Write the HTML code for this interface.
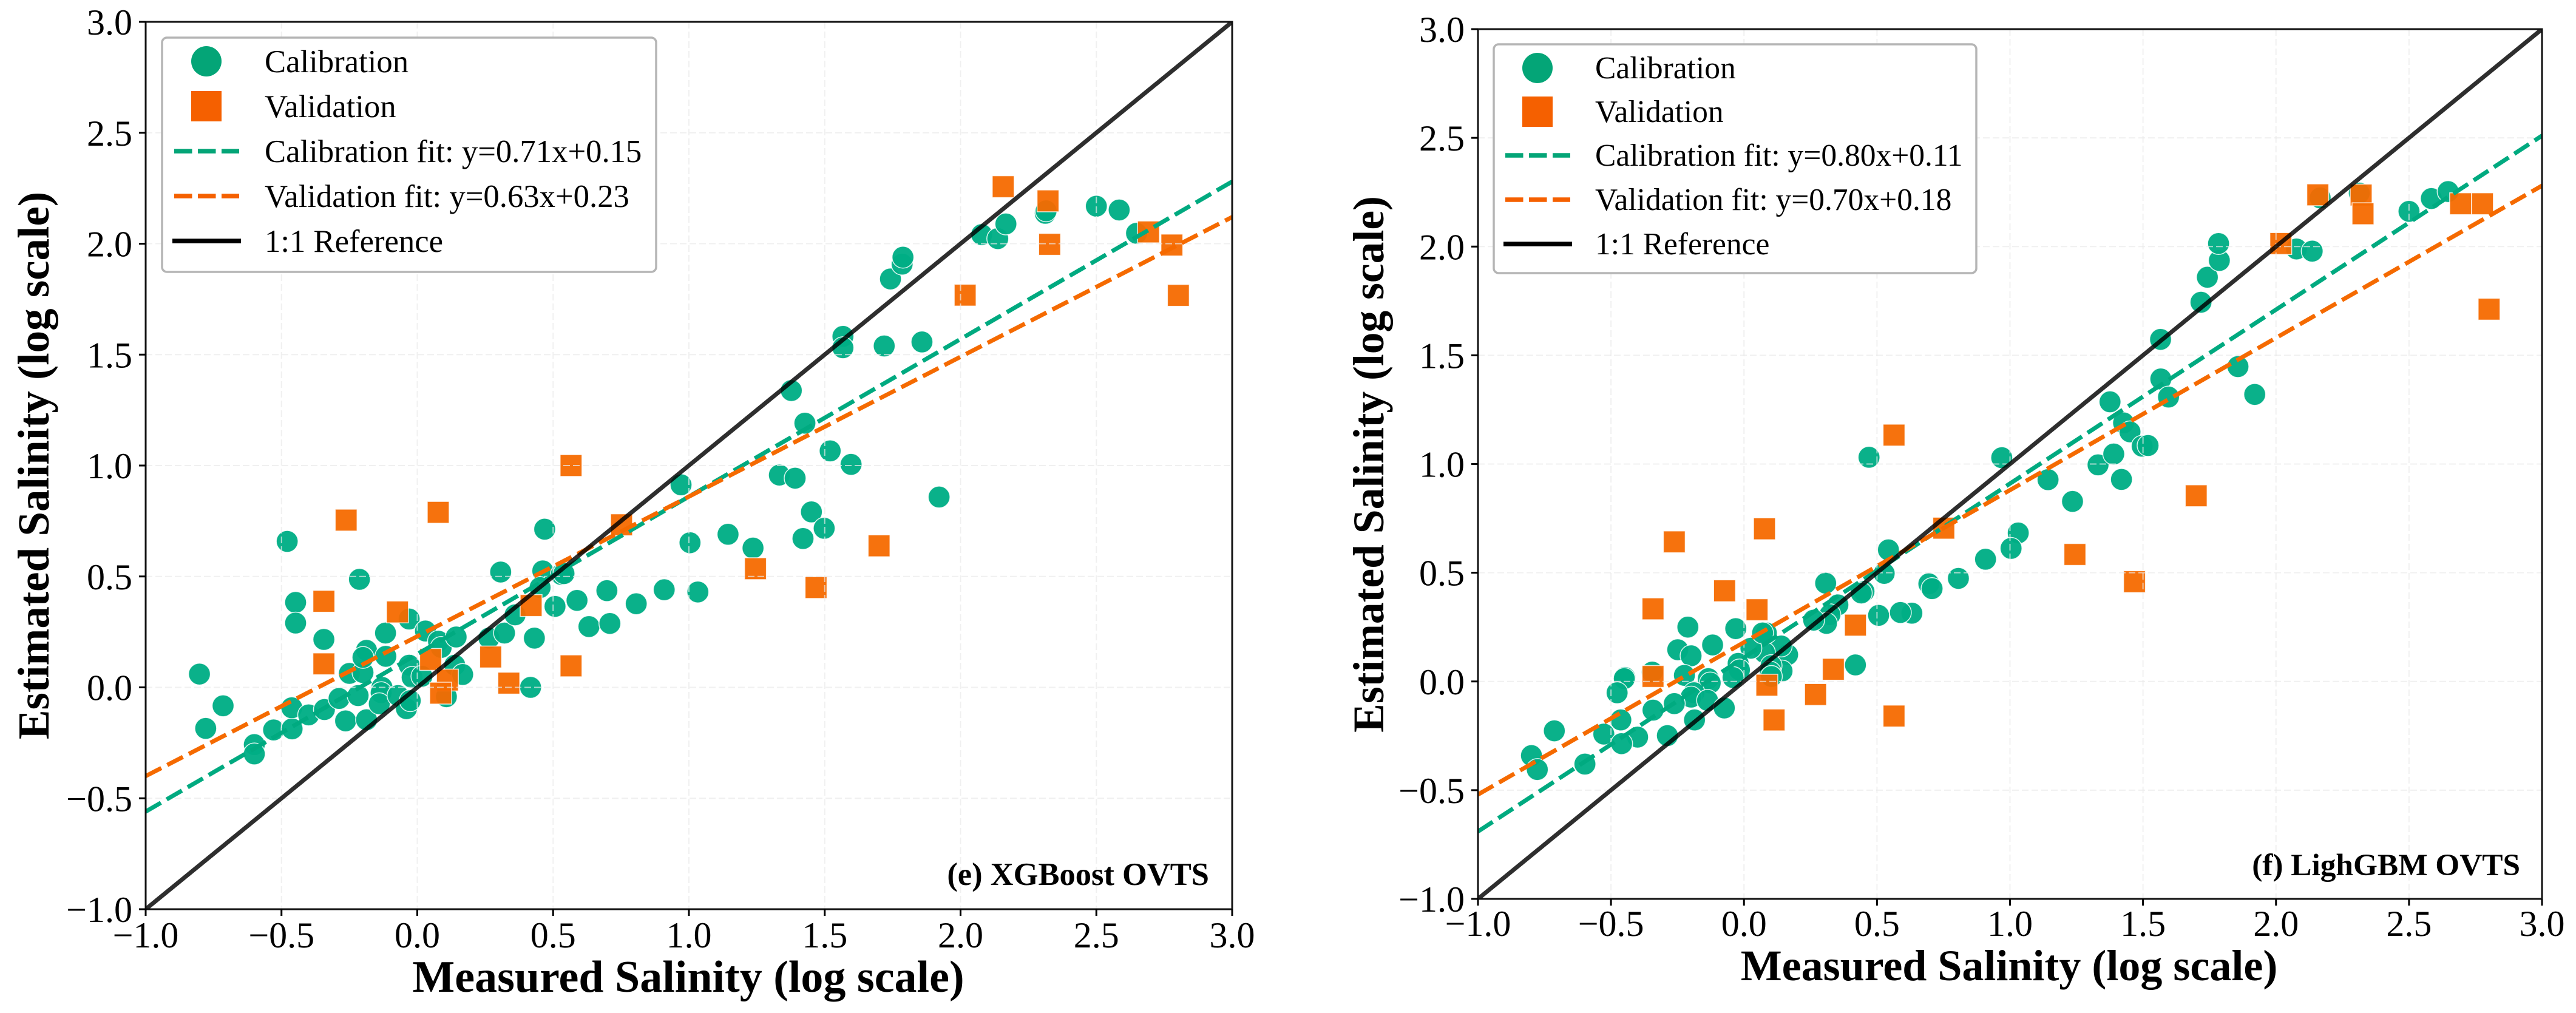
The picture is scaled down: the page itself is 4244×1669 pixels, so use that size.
<!DOCTYPE html>
<html lang="en">
<head>
<meta charset="utf-8">
<title>Measured vs Estimated Salinity</title>
<style>
html,body{margin:0;padding:0;background:#fff;}
svg{display:block;font-family:"Liberation Serif",serif;}
</style>
</head>
<body>
<svg id="figure" xmlns="http://www.w3.org/2000/svg" width="4244" height="1669" viewBox="0 0 4244 1669"></svg>
<script>
const xDomain = [-1, 3];
const yDomain = [-1, 3];
const tickValues = [-1, -0.5, 0, 0.5, 1, 1.5, 2, 2.5, 3];
const tickLabels = ['\u22121.0', '\u22120.5', '0.0', '0.5', '1.0', '1.5', '2.0', '2.5', '3.0'];

const calXE = [-0.802,-0.715,-0.779,-0.6,-0.6,-0.529,-0.461,-0.462,-0.479,-0.448,-0.448,-0.344,-0.4,-0.342,-0.288,-0.264,-0.218,-0.25,-0.2,-0.187,-0.2,-0.187,-0.117,-0.116,-0.213,-0.13,-0.133,-0.14,-0.071,-0.04,-0.026,-0.03,-0.03,-0.019,0.017,0.03,0.078,0.088,0.143,0.138,0.167,0.107,0.264,0.321,0.36,0.431,0.417,0.307,0.462,0.452,0.53,0.54,0.507,0.588,0.632,0.698,0.709,0.469,0.806,0.909,1.033,1.004,0.971,1.333,1.391,1.377,1.427,1.52,1.597,1.567,1.567,1.719,1.858,1.742,1.785,1.788,2.078,2.137,2.167,2.312,2.315,2.5,2.584,2.648,1.144,1.236,1.42,1.451,1.498,1.921];
const calYE = [0.06,-0.083,-0.185,-0.258,-0.3,-0.192,-0.187,-0.092,0.658,0.383,0.29,0.216,-0.124,-0.1,-0.05,-0.151,-0.037,0.063,0.067,0.167,0.135,-0.146,0.245,0.14,0.487,0,-0.024,-0.074,-0.037,-0.096,-0.06,0.308,0.1,0.045,0.05,0.254,0.208,0.18,0.227,0.1,0.058,-0.042,0.222,0.245,0.327,0.222,0,0.52,0.525,0.45,0.509,0.513,0.365,0.392,0.274,0.436,0.288,0.713,0.377,0.44,0.43,0.652,0.913,0.957,0.943,1.338,1.191,1.066,1.005,1.582,1.531,1.539,1.557,1.841,1.908,1.939,2.041,2.023,2.089,2.137,2.148,2.169,2.152,2.047,0.69,0.628,0.671,0.791,0.717,0.858];
const valXE = [0.566,-0.262,0.077,-0.344,-0.073,-0.344,0.049,0.111,0.086,0.27,0.337,0.566,0.419,0.752,1.245,1.468,1.7,2.157,2.322,2.328,2.017,2.692,2.778,2.802];
const valYE = [1,0.754,0.789,0.388,0.34,0.106,0.126,0.033,-0.026,0.137,0.019,0.097,0.369,0.733,0.535,0.45,0.638,2.257,2.193,1.997,1.768,2.053,1.994,1.767];

const calXF = [0.47,0.969,1.143,1.235,1.031,1.004,0.908,0.806,0.695,0.707,0.631,0.588,0.506,0.543,0.527,0.451,0.441,0.353,0.323,0.31,0.262,0.307,0.419,0.164,0.14,0.077,0.026,0.084,0.07,-0.031,-0.118,-0.211,-0.249,-0.199,-0.022,-0.017,-0.041,0.143,0.102,0.099,0.103,-0.224,-0.134,-0.127,-0.345,-0.448,-0.45,-0.477,-0.188,-0.199,-0.137,-0.262,-0.342,-0.074,-0.186,-0.463,-0.4,-0.527,-0.46,-0.288,-0.713,-0.799,-0.598,-0.777,1.331,1.39,1.419,1.376,1.427,1.451,1.497,1.519,1.566,1.567,1.596,1.857,1.92,1.718,1.742,1.787,1.784,2.077,2.136,2.166,2.313,2.5,2.584,2.647];
const calYF = [1.031,1.029,0.928,0.828,0.683,0.612,0.562,0.474,0.449,0.427,0.314,0.317,0.304,0.605,0.497,0.414,0.407,0.352,0.307,0.267,0.282,0.452,0.076,0.123,0.163,0.133,0.153,0.223,0.223,0.243,0.168,0.25,0.146,0.118,0.083,0.053,0.018,0.048,0.073,0.043,0.023,0.028,0.013,-0.007,0.043,0.018,0.013,-0.052,-0.052,-0.072,-0.087,-0.102,-0.132,-0.122,-0.177,-0.177,-0.256,-0.242,-0.286,-0.249,-0.227,-0.341,-0.38,-0.405,0.996,1.046,0.929,1.286,1.189,1.148,1.082,1.085,1.573,1.391,1.308,1.448,1.32,1.744,1.859,1.936,2.014,1.989,1.979,2.224,2.246,2.162,2.221,2.253];
const valXF = [0.564,-0.262,0.077,0.751,-0.073,-0.342,0.049,0.419,-0.342,0.086,0.336,0.269,0.113,0.564,2.157,2.32,2.327,2.018,2.694,2.776,2.801,1.244,1.7,1.468];
const valYF = [1.133,0.642,0.702,0.705,0.417,0.334,0.33,0.259,0.023,-0.017,0.056,-0.06,-0.177,-0.159,2.238,2.237,2.151,2.014,2.197,2.197,1.712,0.584,0.854,0.459];

const fitSlopesE = [0.71, 0.63];
const fitInterceptsE = [0.15, 0.23];
const fitSlopesF = [0.80, 0.70];
const fitInterceptsF = [0.11, 0.18];
const refLine = [-1, 3];

const NS = 'http://www.w3.org/2000/svg';
const CAL = '#00ae85';
const VAL = '#f56a00';
const figure = document.getElementById('figure');

function node(tag, parent) {
  const n = document.createElementNS(NS, tag);
  parent.appendChild(n);
  return n;
}
function props(n, o) {
  for (const k in o) n.setAttribute(k, o[k]);
  return n;
}

function drawPanel(p) {
  const sx = v => p.left + (v - xDomain[0]) / (xDomain[1] - xDomain[0]) * (p.right - p.left);
  const sy = v => p.bottom - (v - yDomain[0]) / (yDomain[1] - yDomain[0]) * (p.bottom - p.top);

  const g = node('g', figure);
  
  

  const clip = node('clipPath', g);
  clip.setAttribute('id', 'clip-' + p.id);
  props(node('rect', clip), {x: p.left, y: p.top, width: p.right - p.left, height: p.bottom - p.top});

  const plot = node('g', g);
  plot.setAttribute('clip-path', 'url(#clip-' + p.id + ')');
  
  

  p.calX.forEach((x, i) => {
    const dot = node('circle', plot);
    
    
    props(dot, {cx: sx(x), cy: sy(p.calY[i]), r: 18, fill: CAL, 'fill-opacity': 0.96, stroke: '#fff', 'stroke-opacity': 0.85, 'stroke-width': 1.5});
  });
  p.valX.forEach((x, i) => {
    const sq = node('rect', plot);
    
    
    props(sq, {x: sx(x) - 18, y: sy(p.valY[i]) - 18, width: 36, height: 36, fill: VAL, 'fill-opacity': 0.95, stroke: '#fff', 'stroke-opacity': 0.8, 'stroke-width': 1.5});
  });

  tickValues.forEach(v => {
    const gx = node('line', plot);
    
    
    props(gx, {x1: sx(v), x2: sx(v), y1: p.top, y2: p.bottom, stroke: '#e9e9e9', 'stroke-width': 2, 'stroke-dasharray': '11 5', 'stroke-opacity': 0.7});
    const gy = node('line', plot);
    
    
    props(gy, {x1: p.left, x2: p.right, y1: sy(v), y2: sy(v), stroke: '#e9e9e9', 'stroke-width': 2, 'stroke-dasharray': '11 5', 'stroke-opacity': 0.7});
  });

  const fitColors = ['#00aa80', '#f56a00'];
  const fitNames = ['calibration-fit-line', 'validation-fit-line'];
  p.slopes.forEach((m, i) => {
    const fit = node('line', plot);
    
    
    props(fit, {x1: sx(xDomain[0]), y1: sy(m * xDomain[0] + p.intercepts[i]), x2: sx(xDomain[1]), y2: sy(m * xDomain[1] + p.intercepts[i]), stroke: fitColors[i], 'stroke-width': 7, 'stroke-dasharray': '29 11'});
  });
  const ref = node('line', plot);
  
  
  props(ref, {x1: sx(refLine[0]), y1: sy(refLine[0]), x2: sx(refLine[1]), y2: sy(refLine[1]), stroke: '#000', 'stroke-opacity': 0.82, 'stroke-width': 7});

  const frame = node('rect', g);
  
  
  props(frame, {x: p.left, y: p.top, width: p.right - p.left, height: p.bottom - p.top, fill: 'none', stroke: '#111', 'stroke-width': 3});

  tickValues.forEach((v, i) => {
    const tx = node('line', g);
    
    
    props(tx, {x1: sx(v), x2: sx(v), y1: p.bottom, y2: p.bottom + 11, stroke: '#000', 'stroke-width': 3});
    const ty = node('line', g);
    
    
    props(ty, {x1: p.left - 11, x2: p.left, y1: sy(v), y2: sy(v), stroke: '#000', 'stroke-width': 3});
    const lx = node('text', g);
    
    
    props(lx, {x: sx(v), y: p.xLabelY, 'text-anchor': 'middle', 'font-size': 60, fill: '#000'});
    lx.textContent = tickLabels[i];
    const ly = node('text', g);
    
    
    props(ly, {x: p.left - 22, y: sy(v) + 21, 'text-anchor': 'end', 'font-size': 60, fill: '#000'});
    ly.textContent = tickLabels[i];
  });

  const xt = node('text', g);
  
  
  props(xt, {x: p.xTitleX, y: p.xTitleY, 'text-anchor': 'middle', 'font-size': p.titleSize, 'font-weight': 700, fill: '#000'});
  xt.textContent = 'Measured Salinity (log scale)';

  const yt = node('text', g);
  
  
  props(yt, {transform: 'translate(' + p.yTitleX + ' ' + p.yTitleY + ') rotate(-90)', 'text-anchor': 'middle', 'font-size': p.yTitleSize, 'font-weight': 700, fill: '#000'});
  yt.textContent = 'Estimated Salinity (log scale)';

  const tag = node('text', g);
  
  
  props(tag, {x: p.tagX, y: p.tagY, 'text-anchor': 'end', 'font-size': p.tagSize, 'font-weight': 700, fill: '#000'});
  tag.textContent = p.tag;

  const lg = node('g', g);
  
  
  const L = p.legend;
  const box = node('rect', lg);
  
  
  props(box, {x: L.x, y: L.y, width: L.w, height: L.h, rx: 8, ry: 8, fill: '#fff', 'fill-opacity': 0.97, stroke: '#b5b5b5', 'stroke-width': 3.5});

  const mc = node('circle', lg);
  
  
  props(mc, {cx: L.mx, cy: L.rows[0], r: 25, fill: '#04a577'});
  const ms = node('rect', lg);
  
  
  props(ms, {x: L.mx - 25, y: L.rows[1] - 25, width: 50, height: 50, fill: '#f56000'});
  const lc = node('line', lg);
  
  
  props(lc, {x1: L.mx - 53, x2: L.mx + 54, y1: L.rows[2], y2: L.rows[2], stroke: '#04a577', 'stroke-width': 7.5, 'stroke-dasharray': '29.5 9.5'});
  const lv = node('line', lg);
  
  
  props(lv, {x1: L.mx - 53, x2: L.mx + 54, y1: L.rows[3], y2: L.rows[3], stroke: '#f56000', 'stroke-width': 7.5, 'stroke-dasharray': '29.5 9.5'});
  const lr = node('line', lg);
  
  
  props(lr, {x1: L.mx - 56, x2: L.mx + 57, y1: L.rows[4], y2: L.rows[4], stroke: '#000', 'stroke-width': 7.5});

  p.legendLabels.forEach((txt, i) => {
    const t = node('text', lg);
    
    
    props(t, {x: L.tx, y: L.rows[i] + L.base, 'font-size': L.size, fill: '#000'});
    t.textContent = txt;
  });
}

drawPanel({
  id: 'e', left: 240, right: 2030, top: 36, bottom: 1498,
  calX: calXE, calY: calYE, valX: valXE, valY: valYE,
  slopes: fitSlopesE, intercepts: fitInterceptsE,
  xLabelY: 1561, xTitleX: 1134, xTitleY: 1634, titleSize: 74,
  yTitleX: 80, yTitleY: 767, yTitleSize: 73,
  tag: '(e) XGBoost OVTS', tagX: 1992, tagY: 1458, tagSize: 52.5,
  legend: {x: 267, y: 62, w: 814, h: 386, mx: 340, tx: 436, size: 52.7, base: 18, rows: [101, 175, 249, 323, 397]},
  legendLabels: ['Calibration', 'Validation', 'Calibration fit: y=0.71x+0.15', 'Validation fit: y=0.63x+0.23', '1:1 Reference']
});
drawPanel({
  id: 'f', left: 2435, right: 4188, top: 48, bottom: 1481,
  calX: calXF, calY: calYF, valX: valXF, valY: valYF,
  slopes: fitSlopesF, intercepts: fitInterceptsF,
  xLabelY: 1542, xTitleX: 3310, xTitleY: 1615, titleSize: 72,
  yTitleX: 2279, yTitleY: 765, yTitleSize: 71.5,
  tag: '(f) LighGBM OVTS', tagX: 4152, tagY: 1442, tagSize: 51.3,
  legend: {x: 2461, y: 73, w: 795, h: 377, mx: 2533, tx: 2628, size: 51.5, base: 17, rows: [112, 184, 256, 329, 402]},
  legendLabels: ['Calibration', 'Validation', 'Calibration fit: y=0.80x+0.11', 'Validation fit: y=0.70x+0.18', '1:1 Reference']
});
</script>
</body>
</html>
